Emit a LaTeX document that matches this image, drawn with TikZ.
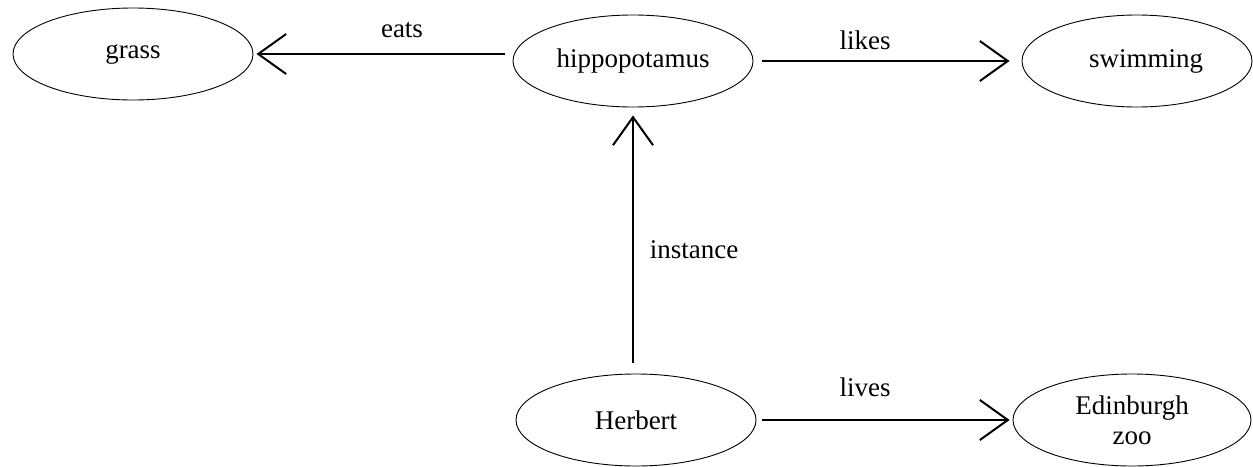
\documentclass[tikz,border=0pt]{standalone}
\usepackage{fontspec}
\setmainfont{Liberation Serif}
\usetikzlibrary{shapes.geometric,arrows.meta}
\begin{document}
\begin{tikzpicture}[x=1pt,y=-1pt,
  concept/.style={ellipse,draw,line width=0.9pt,inner sep=0pt,minimum height=92pt,
    font=\fontsize{27}{30}\selectfont,align=center},
  rel/.style={line width=2pt,-{Straight Barb[length=28pt,width=40pt,line width=2pt]}},
  lbl/.style={font=\fontsize{27}{30}\selectfont,inner sep=0pt}]
\useasboundingbox (0,0) rectangle (1253,466);
\node[concept,minimum width=240pt] (grass) at (133,54) {grass};
\node[concept,minimum width=240pt] (hippo) at (633,61) {hippopotamus};
\node[concept,minimum width=230pt] (swim) at (1137,61) {\hspace*{18pt}swimming};
\node[concept,minimum width=240pt] (herb) at (636,420) {Herbert};
\node[concept,minimum width=238pt] (edin) at (1132,420) {Edinburgh\\zoo};
\draw[rel,shorten >=3pt] ([xshift=-8pt]hippo.west |- grass.east) -- (grass.east);
\draw[rel,shorten <=9pt,shorten >=12pt] (hippo.east) -- (swim.west);
\draw[rel,shorten <=11pt,shorten >=8pt] (hippo.south |- herb.north) -- (hippo.south);
\draw[rel,shorten <=6pt,shorten >=3pt] (herb.east) -- (edin.west);
\node[lbl] (eats) at (402,30) {eats};
\node[lbl] (likes) at (865,40) {likes};
\node[lbl] (inst) at (694,250) {instance};
\node[lbl] (lives) at (865,387) {lives};
\end{tikzpicture}
\end{document}
